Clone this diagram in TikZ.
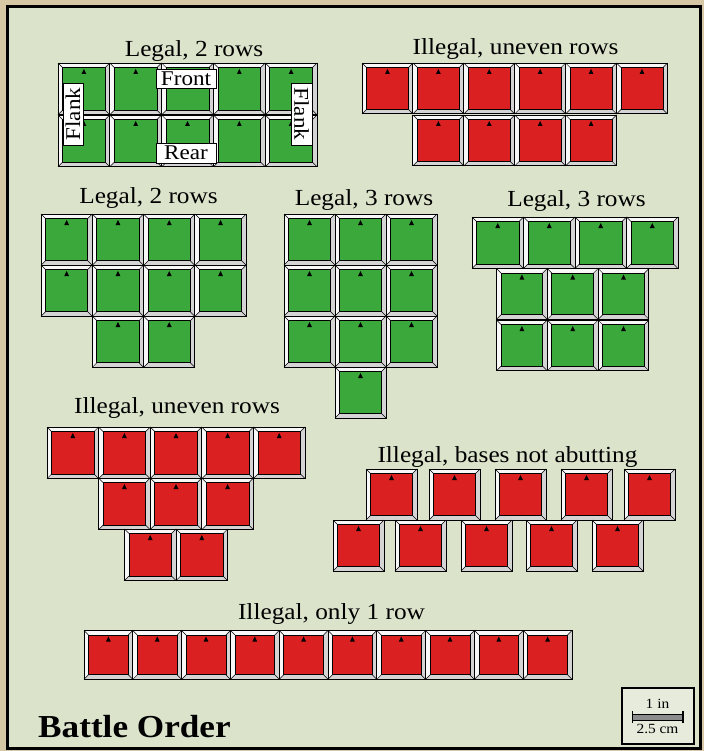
\documentclass[tikz,border=0pt]{standalone}
\usepackage{fontspec}
\setmainfont{Liberation Serif}[FakeStretch=1.1]
\definecolor{paper}{RGB}{214,199,165}
\definecolor{panel}{RGB}{219,227,203}
\definecolor{grn}{RGB}{58,168,58}
\definecolor{bred}{RGB}{218,32,32}
\definecolor{bevlight}{RGB}{248,248,248}
\definecolor{bevdark}{RGB}{212,212,212}
\tikzset{
  ttl/.style={font=\fontsize{23}{23}\selectfont, anchor=base, inner sep=0pt},
  lbl/.style={draw=black, fill=white, line width=0.8pt, inner sep=0pt,
              font=\fontsize{21}{21}\selectfont},
  pics/unit/.style 2 args={code={
    \pgfmathsetmacro\bsz{#2}
    \pgfmathsetmacro\bin{#2-4.5}
    \fill[bevlight] (0,0) rectangle (\bsz,\bsz);
    \fill[bevdark] (0,\bsz) -- (4.5,\bin) -- (\bin,\bin) -- (\bin,4.5) -- (\bsz,0) -- (\bsz,\bsz) -- cycle;
    \filldraw[fill=#1, draw=black, line width=0.7pt] (4.5,4.5) rectangle (\bin,\bin);
    \draw[line width=0.5pt] (0,0) -- (4.5,4.5) (\bsz,0) -- (\bin,4.5)
         (0,\bsz) -- (4.5,\bin) (\bsz,\bsz) -- (\bin,\bin);
    \draw[line width=0.9pt] (0,0) rectangle (\bsz,\bsz);
    \fill[black] ({\bsz/2},6) -- ({\bsz/2-2.4},11) -- ({\bsz/2+2.4},11) -- cycle;
  }}
}
\begin{document}
\begin{tikzpicture}[x=1pt,y=-1pt]
\useasboundingbox (0,0) rectangle (704,751);
\fill[paper] (0,0) rectangle (704,751);
\filldraw[fill=panel, draw=black, line width=3.5pt] (7.5,6.5) rectangle (700.5,748.5);

% Group A: Legal, 2 rows (top left)
\node[ttl] (tA) at (194,57) {Legal, 2 rows};
\foreach \i in {0,...,4}{\foreach \j in {0,1}{
  \pic at ({58+\i*51.8},{63+\j*52}) {unit={grn}{51.8}};}}
\node[lbl, minimum width=60pt, minimum height=19pt] (front) at (186,78.5) {Front};
\node[lbl, minimum width=60pt, minimum height=20pt] (rear) at (186,153) {Rear};
\node[lbl, rotate=90, minimum width=62pt, minimum height=20pt] (flankL) at (73,114) {Flank};
\node[lbl, rotate=-90, minimum width=62pt, minimum height=21pt] (flankR) at (301.5,114) {Flank};

% Group B: Illegal, uneven rows (top right)
\node[ttl] (tB) at (515.5,55) {Illegal, uneven rows};
\foreach \i in {0,...,5}{\pic at ({362+\i*50.9},63) {unit={bred}{50.9}};}
\foreach \i in {1,...,4}{\pic at ({362+\i*50.9},115) {unit={bred}{50.9}};}

% Group C: Legal, 2 rows (middle left)
\node[ttl] (tC) at (148.5,204) {Legal, 2 rows};
\foreach \i in {0,...,3}{\foreach \j in {0,1}{
  \pic at ({41+\i*51.3},{214+\j*51}) {unit={grn}{51.3}};}}
\foreach \i in {1,2}{\pic at ({41+\i*51.3},316) {unit={grn}{51.3}};}

% Group D: Legal, 3 rows (middle)
\node[ttl] (tD) at (364,205) {Legal, 3 rows};
\foreach \i in {0,...,2}{\foreach \j in {0,...,2}{
  \pic at ({284+\i*51},{214+\j*51}) {unit={grn}{51}};}}
\pic at (335,367) {unit={grn}{51}};

% Group E: Legal, 3 rows (right)
\node[ttl] (tE) at (576.5,207) {Legal, 3 rows};
\foreach \i in {0,...,3}{\pic at ({472+\i*51.5},217) {unit={grn}{51.5}};}
\foreach \i in {0,...,2}{\foreach \j in {0,1}{
  \pic at ({496.5+\i*50.8},{268.5+\j*51.5}) {unit={grn}{50.8}};}}

% Group F: Illegal, uneven rows (lower left)
\node[ttl] (tF) at (177,413) {Illegal, uneven rows};
\foreach \i in {0,...,4}{\pic at ({47+\i*51.6},427) {unit={bred}{51.6}};}
\foreach \i in {0,...,2}{\pic at ({98.6+\i*51.6},478) {unit={bred}{51.6}};}
\foreach \i in {0,1}{\pic at ({124.4+\i*51.6},529) {unit={bred}{51.6}};}

% Group G: Illegal, bases not abutting
\node[ttl] (tG) at (507.5,462) {Illegal, bases not abutting};
\foreach \x in {366,429,495,561,624}{\pic at (\x,469) {unit={bred}{51}};}
\foreach \x in {333,395,461,526,592}{\pic at (\x,520) {unit={bred}{51}};}

% Group H: Illegal, only 1 row
\node[ttl] (tH) at (331.5,619) {Illegal, only 1 row};
\foreach \i in {0,...,9}{\pic at ({84+\i*48.8},630.5) {unit={bred}{48.8}};}

% Title
\node[anchor=base west, inner sep=0pt, font=\fontsize{32}{32}\selectfont\bfseries] (title) at (38,737) {Battle Order};

% Scale box
\node[draw=black, line width=1.2pt, fill=panel!70!white, minimum width=72pt, minimum height=56pt, inner sep=0pt] (scalebox) at (658,716) {};
\coordinate (barL) at (632.5,717);
\coordinate (barR) at (683,717);
\fill[black!45] ([yshift=-3pt]barL) rectangle ([yshift=3pt]barR);
\draw[line width=0.6pt] ([yshift=-3pt]barL) -- ([yshift=-3pt]barR) ([yshift=3pt]barL) -- ([yshift=3pt]barR);
\draw[line width=1.3pt] ([yshift=-6pt]barL) -- ([yshift=6pt]barL) ([yshift=-6pt]barR) -- ([yshift=6pt]barR);
\node[anchor=base, inner sep=0pt, font=\fontsize{14}{14}\selectfont] (inch) at (657.5,708.5) {1 in};
\node[anchor=base, inner sep=0pt, font=\fontsize{14}{14}\selectfont] (cm) at (657.5,733.5) {2.5 cm};
\end{tikzpicture}
\end{document}
